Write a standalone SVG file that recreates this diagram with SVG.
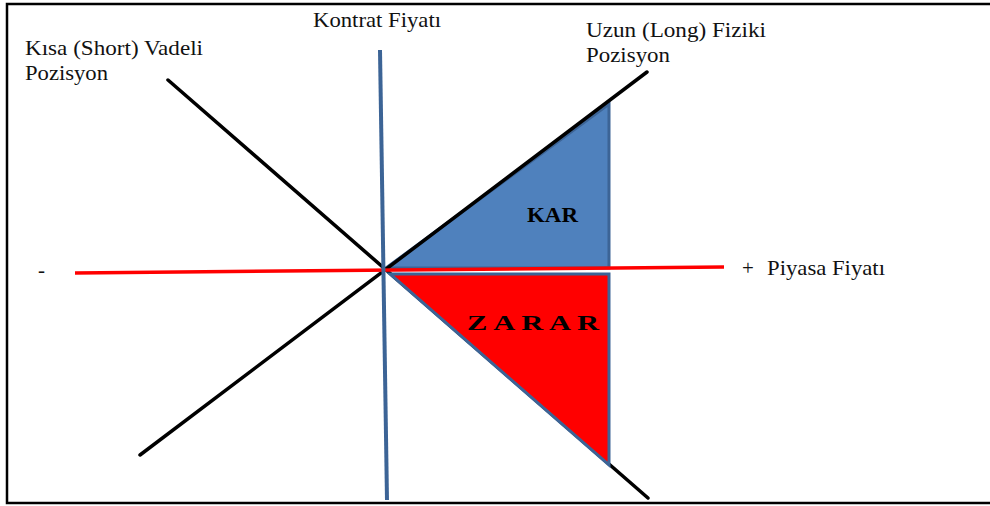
<svg xmlns="http://www.w3.org/2000/svg" width="990" height="506" viewBox="0 0 990 506">
  <style>
    text { font-family: "Liberation Serif", "DejaVu Serif", "Times New Roman", serif; }
    .lbl { font-size: 21px; fill: #111; }
    .big { font-size: 21px; font-weight: bold; fill: #000; }
    .blk { stroke: #000; stroke-width: 3.5; fill: none; stroke-linecap: round; }
    .tri { stroke: #3C6496; stroke-width: 3; stroke-linejoin: miter; }
  </style>
  <rect x="0" y="0" width="990" height="506" fill="#fff"/>
  <path d="M 995 4 H 7 V 503 H 995" fill="none" stroke="#000" stroke-width="2.5"/>

  <g id="kar">
    <polygon class="tri" points="386,268 609,104 609,268" fill="#4F81BD"/>
    <text class="big" x="527" y="222" textLength="51" lengthAdjust="spacingAndGlyphs">KAR</text>
  </g>

  <g id="connectors">
    <line id="short-line" class="blk" x1="168" y1="80" x2="648" y2="498"/>
    <line id="long-line" class="blk" x1="140" y1="455" x2="647" y2="72"/>
  </g>

  <g id="zarar">
    <polygon class="tri" points="390,274 609,274 609,465" fill="#FF0000"/>
    <text class="big" x="467" y="330" textLength="132" lengthAdjust="spacingAndGlyphs">Z  A  R  A  R</text>
  </g>

  <g id="piyasa-axis">
    <line x1="75" y1="273" x2="724" y2="267" stroke="#FF0000" stroke-width="3.5"/>
    <text class="lbl" x="38" y="277">-</text>
    <text class="lbl" x="742" y="275">+</text>
    <text class="lbl" x="767" y="275" textLength="118" lengthAdjust="spacingAndGlyphs">Piyasa Fiyatı</text>
  </g>

  <g id="kontrat-axis">
    <line x1="380" y1="50" x2="387" y2="500" stroke="#3C6496" stroke-width="4"/>
    <text class="lbl" x="313" y="27" textLength="128" lengthAdjust="spacingAndGlyphs">Kontrat Fiyatı</text>
  </g>

  <g id="short-label">
    <text class="lbl" x="25" y="55" textLength="178" lengthAdjust="spacingAndGlyphs">Kısa (Short) Vadeli</text>
    <text class="lbl" x="25" y="80" textLength="83" lengthAdjust="spacingAndGlyphs">Pozisyon</text>
  </g>

  <g id="long-label">
    <text class="lbl" x="586" y="37" textLength="180" lengthAdjust="spacingAndGlyphs">Uzun (Long) Fiziki</text>
    <text class="lbl" x="586" y="62" textLength="84" lengthAdjust="spacingAndGlyphs">Pozisyon</text>
  </g>
</svg>
